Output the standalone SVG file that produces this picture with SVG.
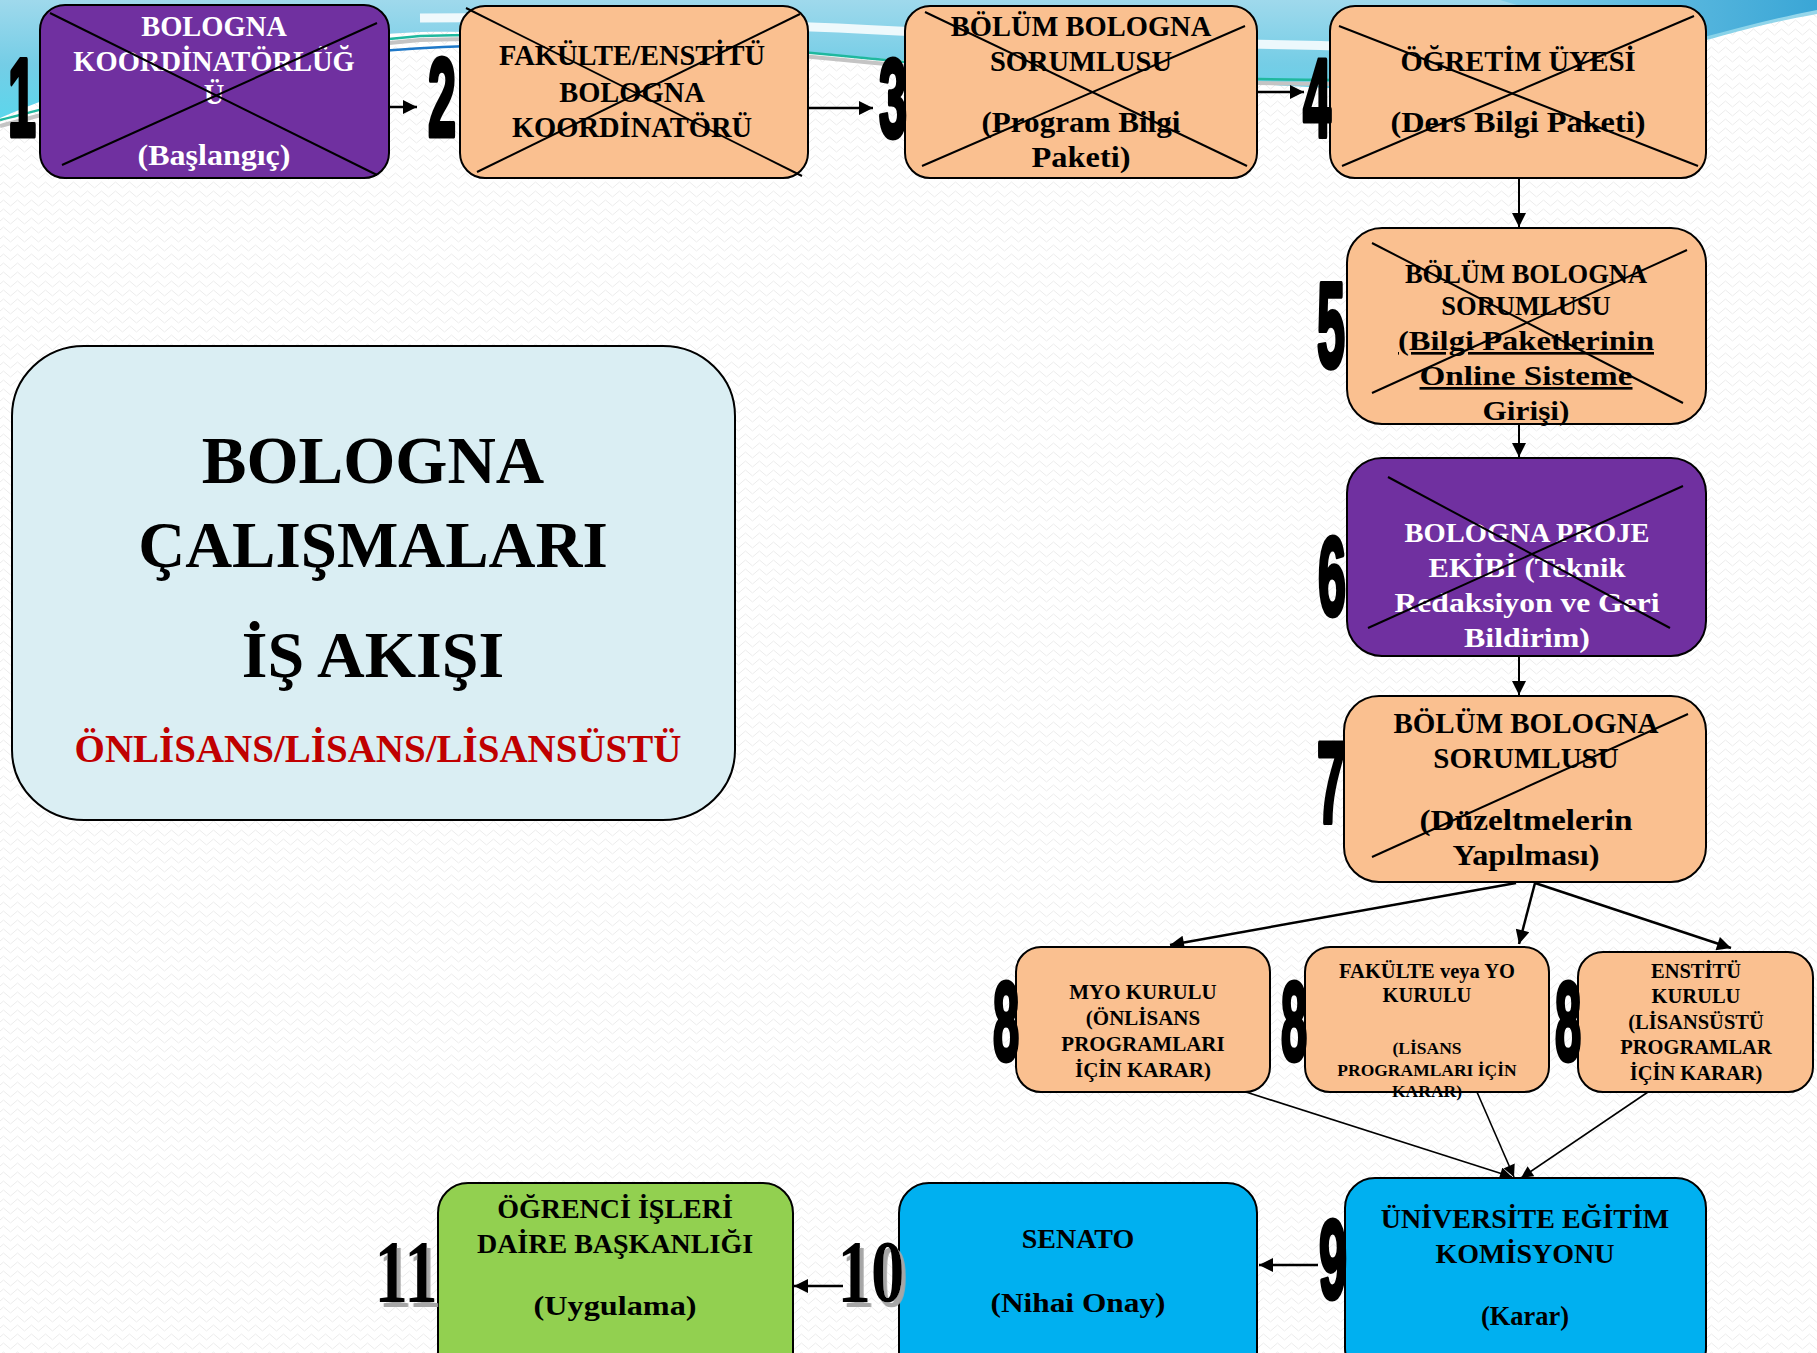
<svg xmlns="http://www.w3.org/2000/svg" width="1817" height="1353" viewBox="0 0 1817 1353">
<defs>
<pattern id="zig" width="14" height="9" patternUnits="userSpaceOnUse">
<polyline points="0,5 3.5,2 7,5 10.5,8 14,5" fill="none" stroke="#ECECEC" stroke-width="1"/>
</pattern>
<linearGradient id="sw" x1="0" y1="0" x2="0" y2="1">
<stop offset="0" stop-color="#9FD9EC"/>
<stop offset="0.55" stop-color="#74CDE6"/>
<stop offset="1" stop-color="#5CD6EC"/>
</linearGradient>
<linearGradient id="sw2" x1="0" y1="0" x2="1" y2="0">
<stop offset="0" stop-color="#7FCDE8"/>
<stop offset="1" stop-color="#3AA6D6"/>
</linearGradient>
<filter id="shadow" x="-20%" y="-20%" width="150%" height="150%">
<feDropShadow dx="5" dy="5" stdDeviation="0.5" flood-color="#A6A6A6" flood-opacity="1"/>
</filter>
<marker id="ah" viewBox="0 0 10 10" refX="10" refY="5" markerWidth="16" markerHeight="14" markerUnits="userSpaceOnUse" orient="auto">
<path d="M0,0 L10,5 L0,10 Z" fill="#000"/>
</marker>
<marker id="ahs" viewBox="0 0 10 10" refX="10" refY="5" markerWidth="13" markerHeight="12" markerUnits="userSpaceOnUse" orient="auto">
<path d="M0,0 L10,5 L0,10 Z" fill="#000"/>
</marker>
</defs>
<style>
.box{stroke:#000;stroke-width:2}
.purple{fill:#7030A0}
.peach{fill:#FAC090}
.cyan{fill:#00B0F0}
.green{fill:#92D050}
.t{font-family:"Liberation Serif","Times New Roman",serif;font-weight:bold;text-anchor:middle;fill:#000}
.w{fill:#fff}
.xl{stroke:#000;stroke-width:2;fill:none}
.num{font-family:"Liberation Sans",Arial,sans-serif;font-weight:bold;font-size:112px;text-anchor:middle;fill:#000;stroke:#000;stroke-width:5;stroke-linejoin:round}
.num2{font-family:"Liberation Serif","Times New Roman",serif;font-weight:bold;font-size:88px;text-anchor:middle;fill:#000;filter:url(#shadow)}
.c{fill:none;stroke:#000}
</style>
<rect width="1817" height="1353" fill="#fff"/>
<rect width="1817" height="1353" fill="url(#zig)"/>
<g id="background-swoosh">
<path d="M0,0 H1817 V14 C1760,24 1722,36 1700,42 C1560,90 1420,94 1290,86 C1050,70 920,62 850,56 C700,44 560,30 420,32 C250,40 110,70 0,118 Z" fill="url(#sw)"/>
<path d="M1500,0 H1817 V10 C1775,18 1740,28 1700,38 L1600,30 Z" fill="url(#sw2)"/>
<path d="M420,18 C600,16 800,26 1000,36 C1150,42 1250,44 1340,46" fill="none" stroke="#fff" stroke-width="9" opacity="0.85"/>
<path d="M0,126 C100,100 250,54 420,40 C600,34 780,54 905,66 C1050,76 1200,84 1340,84" fill="none" stroke="#C4C4C4" stroke-width="4"/>
<path d="M0,120 C100,95 250,50 420,36 C600,30 780,50 905,62 C1050,72 1200,80 1340,80" fill="none" stroke="#1FB89E" stroke-width="2.5"/>
<path d="M360,53 C400,49 430,47 470,46" fill="none" stroke="#1E78C8" stroke-width="2.5"/>
</g>

<g id="connectors">
<path class="c" d="M377,107 H417" stroke-width="2.5" marker-end="url(#ah)"/>
<path class="c" d="M808,108 H873" stroke-width="2.5" marker-end="url(#ah)"/>
<path class="c" d="M1258,92 H1304" stroke-width="2.5" marker-end="url(#ah)"/>
<path class="c" d="M1519,178 V227" stroke-width="2" marker-end="url(#ah)"/>
<path class="c" d="M1519,424 V457" stroke-width="2" marker-end="url(#ah)"/>
<path class="c" d="M1519,657 V695" stroke-width="2" marker-end="url(#ah)"/>
<path class="c" d="M1516,883 L1170,945" stroke-width="2.5" marker-end="url(#ah)"/>
<path class="c" d="M1535,883 L1519,944" stroke-width="2.5" marker-end="url(#ah)"/>
<path class="c" d="M1535,883 L1731,948" stroke-width="2.5" marker-end="url(#ah)"/>
<path class="c" d="M1246,1092 L1512,1177" stroke-width="1.6" marker-end="url(#ahs)"/>
<path class="c" d="M1477,1092 L1514,1177" stroke-width="1.6" marker-end="url(#ahs)"/>
<path class="c" d="M1648,1092 L1521,1178" stroke-width="1.6" marker-end="url(#ahs)"/>
<path class="c" d="M1318,1265 H1259" stroke-width="2.5" marker-end="url(#ah)"/>
<path class="c" d="M843,1286 H794" stroke-width="2.5" marker-end="url(#ah)"/>
</g>

<g id="title">
<rect x="12" y="346" width="723" height="474" rx="72" ry="70" fill="#DAEEF3" stroke="#000" stroke-width="2"/>
<text class="t" x="373" y="483" font-size="67">BOLOGNA</text>
<text class="t" x="373" y="567" font-size="65">ÇALIŞMALARI</text>
<text class="t" x="373" y="677" font-size="66">İŞ AKIŞI</text>
<text class="t" x="378" y="762" font-size="39" style="fill:#C00000">ÖNLİSANS/LİSANS/LİSANSÜSTÜ</text>
</g>

<g id="node1">
<rect class="box purple" x="40" y="5" width="349" height="173" rx="25"/>
<text class="t w" x="214" y="36" font-size="28.5">BOLOGNA</text>
<text class="t w" x="214" y="71" font-size="28.5">KOORDİNATÖRLÜĞ</text>
<text class="t w" x="214" y="104" font-size="28.5">Ü</text>
<text class="t w" x="214" y="165" font-size="28.5" textLength="153" lengthAdjust="spacingAndGlyphs">(Başlangıç)</text>
<line class="xl" x1="50" y1="13" x2="377" y2="175"/>
<line class="xl" x1="62" y1="165" x2="377" y2="23"/>
</g>

<g id="node2">
<rect class="box peach" x="460" y="6" width="348" height="172" rx="25"/>
<text class="t" x="632" y="65" font-size="28.5">FAKÜLTE/ENSTİTÜ</text>
<text class="t" x="632" y="102" font-size="28.5">BOLOGNA</text>
<text class="t" x="632" y="137" font-size="28.5">KOORDİNATÖRÜ</text>
<line class="xl" x1="466" y1="8" x2="802" y2="176"/>
<line class="xl" x1="477" y1="172" x2="800" y2="14"/>
</g>

<g id="node3">
<rect class="box peach" x="905" y="6" width="352" height="172" rx="25"/>
<text class="t" x="1081" y="36" font-size="28.5">BÖLÜM BOLOGNA</text>
<text class="t" x="1081" y="71" font-size="28.5">SORUMLUSU</text>
<text class="t" x="1081" y="132" font-size="28.5" textLength="199" lengthAdjust="spacingAndGlyphs">(Program Bilgi</text>
<text class="t" x="1081" y="167" font-size="28.5" textLength="99" lengthAdjust="spacingAndGlyphs">Paketi)</text>
<line class="xl" x1="925" y1="12" x2="1247" y2="166"/>
<line class="xl" x1="922" y1="166" x2="1245" y2="26"/>
</g>

<g id="node4">
<rect class="box peach" x="1330" y="6" width="376" height="172" rx="25"/>
<text class="t" x="1518" y="71" font-size="28.5">ÖĞRETİM ÜYESİ</text>
<text class="t" x="1518" y="132" font-size="28.5" textLength="255" lengthAdjust="spacingAndGlyphs">(Ders Bilgi Paketi)</text>
<line class="xl" x1="1339" y1="26" x2="1698" y2="166"/>
<line class="xl" x1="1342" y1="166" x2="1694" y2="16"/>
</g>

<g id="node5">
<rect class="box peach" x="1347" y="228" width="359" height="196" rx="35"/>
<text class="t" x="1526" y="283" font-size="26.5">BÖLÜM BOLOGNA</text>
<text class="t" x="1526" y="315" font-size="26.5">SORUMLUSU</text>
<text class="t" x="1526" y="350" font-size="26.5" textLength="256" lengthAdjust="spacingAndGlyphs" text-decoration="underline">(Bilgi Paketlerinin</text>
<text class="t" x="1526" y="385" font-size="26.5" textLength="213" lengthAdjust="spacingAndGlyphs" text-decoration="underline">Online Sisteme</text>
<text class="t" x="1526" y="420" font-size="26.5" textLength="87" lengthAdjust="spacingAndGlyphs">Girişi)</text>
<line class="xl" x1="1372" y1="243" x2="1683" y2="403"/>
<line class="xl" x1="1372" y1="393" x2="1687" y2="250"/>
</g>

<g id="node6">
<rect class="box purple" x="1347" y="458" width="359" height="198" rx="35"/>
<text class="t w" x="1527" y="542" font-size="27" textLength="245" lengthAdjust="spacingAndGlyphs">BOLOGNA PROJE</text>
<text class="t w" x="1527" y="577" font-size="27" textLength="197" lengthAdjust="spacingAndGlyphs">EKİBİ (Teknik</text>
<text class="t w" x="1527" y="612" font-size="27" textLength="265" lengthAdjust="spacingAndGlyphs">Redaksiyon ve Geri</text>
<text class="t w" x="1527" y="647" font-size="27" textLength="126" lengthAdjust="spacingAndGlyphs">Bildirim)</text>
<line class="xl" x1="1388" y1="477" x2="1670" y2="628"/>
<line class="xl" x1="1368" y1="628" x2="1683" y2="486"/>
</g>

<g id="node7">
<rect class="box peach" x="1344" y="696" width="362" height="186" rx="35"/>
<text class="t" x="1526" y="733" font-size="29">BÖLÜM BOLOGNA</text>
<text class="t" x="1526" y="768" font-size="29">SORUMLUSU</text>
<text class="t" x="1526" y="830" font-size="29" textLength="213" lengthAdjust="spacingAndGlyphs">(Düzeltmelerin</text>
<text class="t" x="1526" y="865" font-size="29" textLength="147" lengthAdjust="spacingAndGlyphs">Yapılması)</text>
<line class="xl" x1="1372" y1="857" x2="1688" y2="714"/>
</g>

<g id="node8a">
<rect class="box peach" x="1016" y="947" width="254" height="145" rx="25"/>
<text class="t" x="1143" y="999" font-size="21">MYO KURULU</text>
<text class="t" x="1143" y="1025" font-size="21">(ÖNLİSANS</text>
<text class="t" x="1143" y="1051" font-size="21">PROGRAMLARI</text>
<text class="t" x="1143" y="1077" font-size="21">İÇİN KARAR)</text>
</g>

<g id="node8b">
<rect class="box peach" x="1305" y="947" width="244" height="145" rx="25"/>
<text class="t" x="1427" y="978" font-size="20.5">FAKÜLTE veya YO</text>
<text class="t" x="1427" y="1002" font-size="20.5">KURULU</text>
<text class="t" x="1427" y="1054" font-size="17.5">(LİSANS</text>
<text class="t" x="1427" y="1076" font-size="17.5">PROGRAMLARI İÇİN</text>
<text class="t" x="1427" y="1097" font-size="17.5">KARAR)</text>
</g>

<g id="node8c">
<rect class="box peach" x="1578" y="952" width="235" height="140" rx="25"/>
<text class="t" x="1696" y="978" font-size="20.5">ENSTİTÜ</text>
<text class="t" x="1696" y="1003" font-size="20.5">KURULU</text>
<text class="t" x="1696" y="1029" font-size="20.5">(LİSANSÜSTÜ</text>
<text class="t" x="1696" y="1054" font-size="20.5">PROGRAMLAR</text>
<text class="t" x="1696" y="1080" font-size="20.5">İÇİN KARAR)</text>
</g>

<g id="node9">
<rect class="box cyan" x="1345" y="1178" width="361" height="200" rx="30"/>
<text class="t" x="1525" y="1228" font-size="28">ÜNİVERSİTE EĞİTİM</text>
<text class="t" x="1525" y="1263" font-size="28">KOMİSYONU</text>
<text class="t" x="1525" y="1325" font-size="28" textLength="88" lengthAdjust="spacingAndGlyphs">(Karar)</text>
</g>

<g id="node10">
<rect class="box cyan" x="899" y="1183" width="358" height="200" rx="30"/>
<text class="t" x="1078" y="1248" font-size="28">SENATO</text>
<text class="t" x="1078" y="1312" font-size="28" textLength="175" lengthAdjust="spacingAndGlyphs">(Nihai Onay)</text>
</g>

<g id="node11">
<rect class="box green" x="438" y="1183" width="355" height="200" rx="30"/>
<text class="t" x="615" y="1218" font-size="28">ÖĞRENCİ İŞLERİ</text>
<text class="t" x="615" y="1253" font-size="28">DAİRE BAŞKANLIĞI</text>
<text class="t" x="615" y="1315" font-size="28" textLength="163" lengthAdjust="spacingAndGlyphs">(Uygulama)</text>
</g>

<g id="step-numbers">
<text class="num" transform="translate(22,136) scale(0.45,1)">1</text>
<text class="num" transform="translate(442,136) scale(0.45,1)">2</text>
<text class="num" transform="translate(893,137) scale(0.45,1)">3</text>
<text class="num" transform="translate(1317,137) scale(0.45,1)">4</text>
<text class="num" transform="translate(1331,367) scale(0.45,1.08)">5</text>
<text class="num" transform="translate(1332,615) scale(0.45,1)">6</text>
<text class="num" transform="translate(1331,822) scale(0.45,1.03)">7</text>
<text class="num" transform="translate(1006,1060) scale(0.42,1)">8</text>
<text class="num" transform="translate(1294,1060) scale(0.42,1)">8</text>
<text class="num" transform="translate(1568,1060) scale(0.42,1)">8</text>
<text class="num" transform="translate(1333,1298) scale(0.45,1)">9</text>
<text class="num2" transform="translate(406,1301) scale(0.76,1)">11</text>
<text class="num2" transform="translate(871,1301) scale(0.76,1)">10</text>
</g>
</svg>
